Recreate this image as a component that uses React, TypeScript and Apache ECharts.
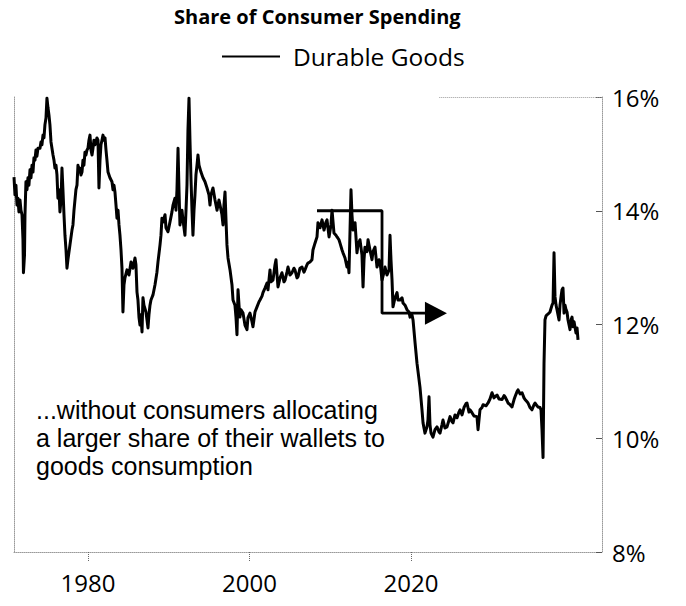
import React, { useEffect, useRef } from "react";
import * as echarts from "echarts";

// [year on the chart's axis, share of consumer spending in %]
const durableGoodsShare: [number, number][] = [
  [1970.84,14.59],[1970.96,14.28],[1971.08,14.45],[1971.21,14.10],[1971.33,14.22],[1971.45,13.98],[1971.58,14.19],[1971.70,14.01],[1971.83,13.93],[1971.95,13.49],
  [1972.01,12.91],[1972.14,13.22],[1972.20,13.93],[1972.32,14.51],[1972.45,14.37],[1972.57,14.58],[1972.69,14.45],[1972.82,14.72],[1972.94,14.58],[1973.07,14.80],
  [1973.19,14.68],[1973.31,14.93],[1973.44,14.89],[1973.56,15.07],[1973.68,14.96],[1973.81,15.10],[1974.06,15.10],[1974.18,15.21],[1974.30,15.16],[1974.43,15.33],
  [1974.55,15.28],[1974.67,15.51],[1974.80,15.63],[1974.92,15.98],[1975.05,15.81],[1975.17,15.68],[1975.29,15.51],[1975.42,15.21],[1975.54,15.10],[1975.67,14.98],
  [1975.79,14.89],[1975.91,14.75],[1976.04,14.80],[1976.16,14.63],[1976.28,14.22],[1976.41,14.37],[1976.53,13.98],[1976.66,14.19],[1976.78,14.75],[1976.90,14.37],
  [1977.03,13.93],[1977.15,13.57],[1977.28,13.31],[1977.40,12.99],[1977.52,13.14],[1977.65,13.28],[1977.77,13.40],[1978.02,13.66],[1978.14,13.75],[1978.27,14.01],
  [1978.39,14.19],[1978.51,14.37],[1978.64,14.45],[1978.76,14.80],[1978.89,14.68],[1979.01,14.75],[1979.13,14.63],[1979.26,14.68],[1979.38,14.89],[1979.50,14.80],
  [1979.63,15.03],[1979.75,14.98],[1979.88,15.07],[1980.00,15.10],[1980.12,15.24],[1980.25,15.33],[1980.37,15.07],[1980.50,14.98],[1980.62,15.10],[1980.74,15.24],
  [1980.87,15.16],[1980.99,15.21],[1981.11,15.28],[1981.24,15.24],[1981.36,14.40],[1981.49,14.89],[1981.61,15.16],[1981.73,15.24],[1981.86,15.33],[1981.98,15.24],
  [1982.11,15.28],[1982.23,15.07],[1982.35,14.89],[1982.48,14.68],[1982.72,14.58],[1982.97,14.51],[1983.10,14.37],[1983.22,14.45],[1983.34,14.33],[1983.47,14.10],
  [1983.59,13.87],[1983.72,14.01],[1983.84,13.75],[1983.96,13.57],[1984.09,13.31],[1984.21,12.99],[1984.33,12.22],[1984.46,12.70],[1984.58,12.82],[1984.83,12.96],
  [1985.08,12.87],[1985.33,13.10],[1985.57,12.99],[1985.82,13.17],[1985.94,13.05],[1986.07,12.57],[1986.19,12.43],[1986.32,12.12],[1986.44,11.99],[1986.56,12.17],
  [1986.69,11.87],[1986.81,12.47],[1986.93,12.34],[1987.18,12.22],[1987.31,12.08],[1987.43,11.94],[1987.55,12.17],[1987.68,12.34],[1987.80,12.43],[1988.05,12.52],
  [1988.30,12.70],[1988.54,12.92],[1988.67,13.10],[1988.92,13.40],[1989.04,13.57],[1989.16,13.87],[1989.29,13.80],[1989.54,13.93],[1989.66,13.70],[1989.91,13.63],
  [1990.15,13.80],[1990.40,13.98],[1990.53,14.10],[1990.77,14.22],[1990.90,14.01],[1991.02,14.37],[1991.15,15.10],[1991.27,14.37],[1991.39,13.75],[1991.64,14.01],
  [1991.76,13.84],[1992.01,13.57],[1992.14,14.01],[1992.26,14.45],[1992.38,15.42],[1992.51,15.98],[1992.63,15.24],[1992.76,14.54],[1992.88,14.01],[1993.00,13.57],
  [1993.13,14.01],[1993.25,14.28],[1993.37,14.63],[1993.50,14.80],[1993.62,14.98],[1993.75,14.80],[1993.99,14.68],[1994.24,14.58],[1994.49,14.51],[1994.74,14.40],
  [1994.98,14.28],[1995.11,14.10],[1995.23,14.28],[1995.48,14.40],[1995.73,14.19],[1995.98,14.01],[1996.22,14.19],[1996.35,14.10],[1996.59,13.93],[1996.72,13.75],
  [1996.84,14.10],[1996.97,14.33],[1997.09,13.84],[1997.21,13.40],[1997.34,13.17],[1997.59,12.96],[1997.83,12.70],[1997.96,12.43],[1998.20,12.34],[1998.33,12.12],
  [1998.45,11.82],[1998.58,12.61],[1998.70,12.34],[1998.82,12.13],[1998.95,12.26],[1999.20,12.20],[1999.44,11.99],[1999.69,11.91],[1999.81,12.12],[2000.06,12.20],
  [2000.31,12.05],[2000.43,11.96],[2000.68,12.22],[2000.93,12.31],[2001.18,12.40],[2001.30,12.43],[2001.55,12.50],[2001.67,12.56],[2001.92,12.64],[2002.17,12.73],
  [2002.29,12.61],[2002.54,12.96],[2002.66,12.75],[2002.91,12.78],[2003.16,13.05],[2003.28,13.14],[2003.41,12.87],[2003.53,12.66],[2003.78,12.82],[2004.02,12.91],
  [2004.27,12.75],[2004.40,12.78],[2004.64,12.92],[2004.77,13.01],[2005.02,12.87],[2005.26,12.91],[2005.51,12.99],[2005.63,12.96],[2005.88,12.82],[2006.01,12.84],
  [2006.25,12.99],[2006.50,13.01],[2006.75,12.92],[2006.87,12.96],[2007.12,13.05],[2007.24,13.08],[2007.49,13.10],[2007.74,13.14],[2007.86,13.31],[2008.11,13.43],
  [2008.36,13.54],[2008.48,13.79],[2008.73,13.70],[2008.98,13.84],[2009.23,13.66],[2009.47,13.80],[2009.60,13.84],[2009.85,13.54],[2010.09,13.75],[2010.22,14.01],
  [2010.46,13.61],[2010.71,13.57],[2010.84,13.54],[2011.08,13.49],[2011.21,13.43],[2011.46,13.31],[2011.58,13.26],[2011.83,13.17],[2012.07,13.01],[2012.20,13.10],
  [2012.32,12.91],[2012.45,13.66],[2012.57,14.37],[2012.69,13.93],[2012.82,13.66],[2013.07,13.79],[2013.31,13.26],[2013.44,13.40],[2013.68,13.49],[2013.93,13.22],
  [2014.06,12.66],[2014.18,13.14],[2014.30,13.36],[2014.55,13.28],[2014.68,13.49],[2014.92,13.31],[2015.17,13.14],[2015.29,13.28],[2015.54,13.36],[2015.79,13.01],
  [2016.04,13.14],[2016.16,13.10],[2016.41,12.78],[2016.66,12.92],[2016.78,13.01],[2017.03,12.87],[2017.28,12.96],[2017.40,13.57],[2017.52,13.14],[2017.65,12.78],
  [2017.77,12.31],[2018.02,12.47],[2018.27,12.56],[2018.39,12.43],[2018.64,12.43],[2018.89,12.47],[2019.01,12.38],[2019.26,12.34],[2019.50,12.26],[2019.75,12.22],
  [2019.88,12.13],[2020.12,12.17],[2020.25,12.08],[2020.50,11.68],[2020.74,11.32],[2021.11,10.90],[2021.36,10.50],[2021.49,10.27],[2021.73,10.09],[2021.98,10.20],
  [2022.10,10.32],[2022.23,10.73],[2022.35,10.24],[2022.48,10.09],[2022.72,10.02],[2022.97,10.15],[2023.22,10.20],[2023.47,10.11],[2023.59,10.09],[2023.84,10.24],
  [2023.96,10.32],[2024.21,10.18],[2024.46,10.20],[2024.71,10.32],[2024.83,10.38],[2025.08,10.29],[2025.20,10.27],[2025.45,10.41],[2025.70,10.36],[2025.94,10.46],
  [2026.07,10.50],[2026.32,10.41],[2026.56,10.54],[2026.81,10.61],[2026.93,10.62],[2027.18,10.46],[2027.31,10.50],[2027.55,10.45],[2027.80,10.39],[2028.17,10.38],
  [2028.30,10.15],[2028.54,10.50],[2028.79,10.54],[2028.92,10.59],[2029.29,10.57],[2029.54,10.62],[2029.78,10.69],[2030.03,10.80],[2030.28,10.71],[2030.40,10.73],
  [2030.65,10.76],[2030.90,10.69],[2031.27,10.68],[2031.52,10.75],[2031.64,10.73],[2031.89,10.66],[2032.01,10.62],[2032.26,10.59],[2032.51,10.55],[2032.76,10.68],
  [2032.88,10.73],[2033.13,10.82],[2033.25,10.85],[2033.50,10.78],[2033.75,10.80],[2033.99,10.71],[2034.12,10.68],[2034.37,10.64],[2034.49,10.62],[2034.74,10.54],
  [2034.98,10.50],[2035.23,10.59],[2035.36,10.62],[2035.60,10.57],[2035.73,10.55],[2035.98,10.54],[2036.10,10.50],[2036.22,10.15],[2036.35,9.66],[2036.47,11.32],
  [2036.59,12.08],[2036.72,12.15],[2036.84,12.17],[2037.09,12.20],[2037.21,12.22],[2037.46,12.34],[2037.59,12.38],[2037.71,13.26],[2037.83,12.49],[2037.96,12.34],
  [2038.08,12.26],[2038.20,12.17],[2038.33,12.08],[2038.45,12.34],[2038.58,12.49],[2038.70,12.61],[2038.82,12.64],[2038.95,12.20],[2039.07,12.34],[2039.20,12.26],
  [2039.32,12.22],[2039.44,12.08],[2039.57,11.99],[2039.69,11.91],[2039.81,12.08],[2039.94,12.13],[2040.06,11.96],[2040.19,12.05],[2040.43,11.85],[2040.56,11.94],
  [2040.68,11.73],
];

// annotation: step line from the 14% plateau down to 12.2%, then an arrow to the right
const stepYears = [2008.36, 2016.41, 2016.41, 2021.73];
const stepLevels = [14, 14, 12.2, 12.2];
const arrowPoint: [number, number] = [2023.09, 12.2];

const xTickYears = [1980, 2000, 2020];
const yTicks = { min: 8, max: 16, interval: 2 };
const xRange = { min: 1970.84, max: 2043.65 };

const titleText = "Share of Consumer Spending";
const seriesName = "Durable Goods";
const noteText = "...without consumers allocating\na larger share of their wallets to\ngoods consumption";

const FONT = "'Open Sans', 'Noto Sans', sans-serif";
const NOTE_FONT = "'Liberation Sans', Arial, sans-serif";
const INK = "#000";
const FRAME = "#9a9a9a";

export default function App() {
  const ref = useRef<HTMLDivElement>(null);

  useEffect(() => {
    if (!ref.current) return;
    const chart = echarts.init(ref.current, null, { renderer: "svg" });
    chart.setOption({
      animation: false,
      backgroundColor: "#fff",
      textStyle: { fontFamily: FONT, color: INK },
      title: {
        text: titleText,
        left: 174,
        top: 6,
        padding: 0,
        textStyle: { fontFamily: FONT, fontSize: 20, fontWeight: "bold", color: INK },
      },
      legend: {
        data: [seriesName],
        left: 222,
        top: 44,
        padding: 0,
        itemWidth: 58,
        itemHeight: 2,
        icon: "rect",
        itemStyle: { color: INK },
        textStyle: { fontFamily: FONT, fontSize: 24.5, color: INK, padding: [0, 0, 0, 8] },
        selectedMode: false,
      },
      grid: { left: 14, right: 84, top: 97, bottom: 54, containLabel: false },
      xAxis: {
        type: "value",
        min: xRange.min,
        max: xRange.max,
        splitLine: { show: false },
        axisLine: { show: true, lineStyle: { color: FRAME, type: "dotted", width: 1 } },
        axisTick: {
          show: true,
          customValues: xTickYears,
          length: 9,
          lineStyle: { color: "#666", type: "dotted", width: 1 },
        },
        axisLabel: {
          customValues: xTickYears,
          fontFamily: FONT,
          fontSize: 24,
          color: INK,
          margin: 18,
          formatter: (v: number) => String(Math.round(v)),
        },
      },
      yAxis: [
        {
          type: "value",
          position: "right",
          min: yTicks.min,
          max: yTicks.max,
          interval: yTicks.interval,
          splitLine: { show: false },
          axisLine: { show: true, lineStyle: { color: FRAME, type: "dotted", width: 1 } },
          axisTick: { show: true, inside: true, length: 6, lineStyle: { color: "#555", width: 1 } },
          axisLabel: {
            fontFamily: FONT,
            fontSize: 24,
            color: INK,
            margin: 10,
            formatter: (v: number) => `${v}%`,
          },
        },
        {
          type: "value",
          position: "left",
          min: yTicks.min,
          max: yTicks.max,
          interval: yTicks.interval,
          splitLine: { show: false },
          axisLine: { show: true, lineStyle: { color: FRAME, type: "dotted", width: 1 } },
          axisTick: { show: false },
          axisLabel: { show: false },
        },
      ],
      series: [
        {
          name: seriesName,
          type: "line",
          data: durableGoodsShare,
          showSymbol: false,
          symbol: "none",
          lineStyle: { color: INK, width: 3, join: "round" },
          itemStyle: { color: INK },
          silent: true,
          markLine: {
            silent: true,
            symbol: ["none", "none"],
            label: { show: false },
            lineStyle: { color: FRAME, type: "dotted", width: 1 },
            data: [[{ coord: [2023.5, yTicks.max] }, { coord: [xRange.max, yTicks.max] }]],
          },
        },
        {
          name: "step",
          type: "line",
          data: stepYears.map((y, i) => [y, stepLevels[i]]),
          showSymbol: false,
          symbol: "none",
          lineStyle: { color: INK, width: 2.8 },
          silent: true,
        },
        {
          name: "arrow",
          type: "scatter",
          data: [arrowPoint],
          symbol: "triangle",
          symbolSize: [23, 22],
          symbolRotate: -90,
          itemStyle: { color: INK, opacity: 1 },
          silent: true,
        },
      ],
      graphic: [
        {
          type: "text",
          left: 36,
          top: 396,
          style: {
            text: noteText,
            font: `25px ${NOTE_FONT}`,
            fill: INK,
            lineHeight: 28,
          },
        },
      ],
    });
    return () => chart.dispose();
  }, []);

  return (
    <div
      ref={ref}
      style={{ position: "absolute", left: 0, top: 0, width: 686, height: 606 }}
    />
  );
}
